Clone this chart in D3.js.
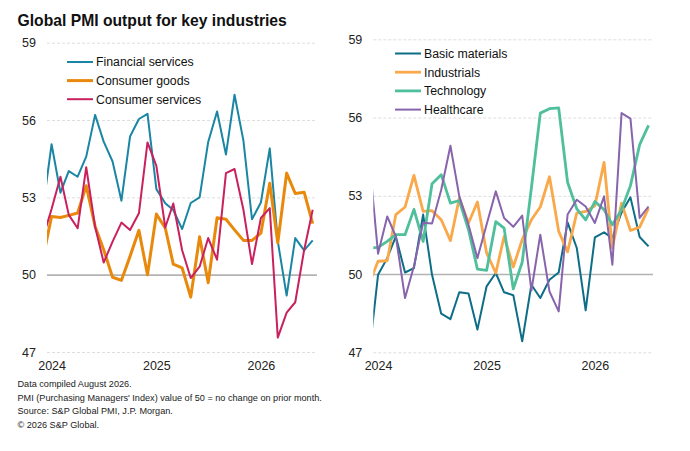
<!DOCTYPE html>
<html>
<head>
<meta charset="utf-8">
<script src="https://cdn.jsdelivr.net/npm/d3@7"></script>
<style>
  body { margin: 0; background: #fff; }
  svg { font-family: "Liberation Sans", Arial, sans-serif; }
  .tick text { font-size: 12.5px; fill: #222; }
  .foot { font-size: 9.15px; fill: #222; }
  .line { fill: none; stroke-linejoin: round; }
</style>
</head>
<body>
<script>
// months Dec 2023 .. Jul 2026 (first point sits just left of the plot and is clipped)
var months = d3.timeMonth.range(new Date(2023, 11, 1), new Date(2026, 7, 1));

var financial = [52.5, 55.06, 53.18, 54.02, 53.80, 54.58, 56.20, 55.16, 54.39, 52.87, 55.36, 56.04, 56.24, 53.32, 52.77, 52.51, 51.77, 52.78, 53.0, 55.15, 56.33, 54.66, 56.98, 55.2, 52.15, 52.8, 54.9, 51.3, 49.19, 51.42, 50.94, 51.33];
var consumerGoods = [50.6, 52.26, 52.22, 52.30, 52.39, 53.45, 51.87, 50.97, 49.90, 49.78, 50.71, 51.72, 50.00, 52.35, 51.81, 50.41, 50.26, 49.13, 51.47, 49.69, 52.21, 52.15, 51.74, 51.33, 51.33, 51.61, 53.55, 51.24, 53.94, 53.15, 53.2, 51.98];
var consumerServices = [51.4, 52.55, 53.80, 52.32, 51.80, 54.17, 51.86, 50.47, 51.28, 52.02, 51.73, 52.38, 55.13, 54.22, 51.83, 52.76, 50.95, 49.87, 50.31, 51.42, 50.58, 53.94, 54.10, 52.52, 50.41, 52.20, 52.58, 47.56, 48.53, 48.93, 50.95, 52.52];

var basicMaterials = [46.8, 49.97, 50.61, 51.44, 50.06, 50.23, 52.28, 49.97, 48.48, 48.27, 49.30, 49.25, 47.87, 49.53, 50.04, 49.30, 49.19, 47.42, 49.59, 49.08, 49.78, 50.06, 51.98, 51.0, 48.61, 51.41, 51.60, 51.38, 52.36, 52.94, 51.42, 51.06];
var industrials = [49.6, 50.49, 50.51, 52.28, 52.57, 53.78, 52.40, 52.43, 52.08, 51.28, 52.91, 51.96, 52.76, 50.81, 50.04, 51.44, 50.27, 51.32, 52.08, 52.57, 53.73, 51.64, 50.85, 52.34, 52.40, 52.62, 54.28, 51.0, 52.72, 51.67, 51.80, 52.53];
var technology = [51.0, 51.02, 51.25, 51.51, 51.51, 52.48, 51.25, 53.46, 53.81, 52.72, 52.82, 51.70, 50.19, 50.14, 52.01, 51.76, 49.43, 50.45, 53.3, 56.17, 56.34, 56.37, 53.52, 52.5, 52.08, 52.78, 52.47, 51.89, 52.47, 53.39, 54.96, 55.7];
var healthcare = [54.6, 50.78, 52.21, 51.44, 49.08, 50.30, 51.97, 51.94, 53.23, 54.92, 52.98, 51.89, 50.61, 51.9, 53.17, 52.15, 51.81, 52.24, 49.37, 51.51, 49.33, 48.57, 52.28, 52.85, 52.59, 51.96, 52.98, 50.36, 56.17, 55.96, 52.15, 52.59];

var yTicks = [47, 50, 53, 56, 59];
var title = "Global PMI output for key industries";
var notes = [
  "Data compiled August 2026.",
  "PMI (Purchasing Managers' Index) value of 50 = no change on prior month.",
  "Source: S&P Global PMI, J.P. Morgan.",
  "\u00a9 2026 S&P Global."
];

var leftSeries = [
  { name: "Financial services", values: financial, color: "#1a86a3", width: 2 },
  { name: "Consumer goods", values: consumerGoods, color: "#e8890c", width: 3 },
  { name: "Consumer services", values: consumerServices, color: "#c8215e", width: 2 }
];
var rightSeries = [
  { name: "Basic materials", values: basicMaterials, color: "#0e6d87", width: 2 },
  { name: "Industrials", values: industrials, color: "#f9a84a", width: 2.8 },
  { name: "Technology", values: technology, color: "#4fbf9c", width: 2.8 },
  { name: "Healthcare", values: healthcare, color: "#8764ac", width: 2 }
];

var svgWidth = 690;
var svgHeight = 451;

var svg = d3.select("body")
  .append("svg")
  .attr("width", svgWidth)
  .attr("height", svgHeight);

svg.append("text")
  .attr("x", 17.5)
  .attr("y", 26)
  .style("font-size", "15.7px")
  .style("font-weight", "bold")
  .style("fill", "#111")
  .text(title);

function drawPanel(id, series, box, legend) {
  var x = d3.scaleTime()
    .domain([new Date(2023, 11, 16), new Date(2026, 6, 16)])
    .range([box.left, box.right]);
  var y = d3.scaleLinear()
    .domain([47, 59])
    .range([box.bottom, box.top]);

  var g = svg.append("g");

  var leftAxis = d3.axisLeft(y)
    .tickValues(yTicks)
    .tickSize(-(box.right - box.left))
    .tickPadding(11);

  var ya = g.append("g")
    .attr("transform", `translate(${box.left}, 0)`)
    .call(leftAxis);
  ya.select(".domain").remove();
  ya.selectAll(".tick line")
    .attr("stroke", d => d === 50 ? "#b3b3b3" : "#dedede")
    .attr("stroke-width", d => d === 50 ? 1.6 : 1)
    .attr("stroke-dasharray", d => d === 50 ? null : "3,2");

  var bottomAxis = d3.axisBottom(x)
    .ticks(d3.timeYear.every(1))
    .tickFormat(d3.timeFormat("%Y"))
    .tickSize(0)
    .tickPadding(9);

  var xa = g.append("g")
    .attr("transform", `translate(0, ${box.bottom})`)
    .call(bottomAxis);
  xa.select(".domain").remove();

  svg.append("clipPath")
    .attr("id", id)
    .append("rect")
    .attr("x", box.left)
    .attr("y", 0)
    .attr("width", box.right - box.left)
    .attr("height", svgHeight);

  var line = d3.line()
    .x((d, i) => x(months[i]))
    .y(d => y(d));

  var lines = g.append("g").attr("clip-path", `url(#${id})`);
  series.forEach(function(s) {
    lines.append("path")
      .attr("class", "line")
      .attr("d", line(s.values))
      .attr("stroke", s.color)
      .attr("stroke-width", s.width);
  });

  var lg = g.append("g");
  series.forEach(function(s, i) {
    var ly = legend.y + i * legend.step;
    lg.append("line")
      .attr("x1", legend.x)
      .attr("x2", legend.x + 26)
      .attr("y1", ly)
      .attr("y2", ly)
      .attr("stroke", s.color)
      .attr("stroke-width", s.width);
    lg.append("text")
      .attr("x", legend.x + 29)
      .attr("y", ly)
      .attr("dy", "0.35em")
      .style("font-size", "12.3px")
      .style("fill", "#111")
      .text(s.name);
  });
}

drawPanel("clipL", leftSeries,
  { left: 47, right: 317, top: 42.7, bottom: 352 },
  { x: 67, y: 62, step: 18.6 });
drawPanel("clipR", rightSeries,
  { left: 373.3, right: 653, top: 39.3, bottom: 352.3 },
  { x: 395, y: 53.5, step: 18.7 });

svg.selectAll(".foot")
  .data(notes)
  .enter()
  .append("text")
  .attr("class", "foot")
  .attr("x", 17.5)
  .attr("y", (d, i) => 387.3 + i * 13.4)
  .text(d => d);
</script>
</body>
</html>
